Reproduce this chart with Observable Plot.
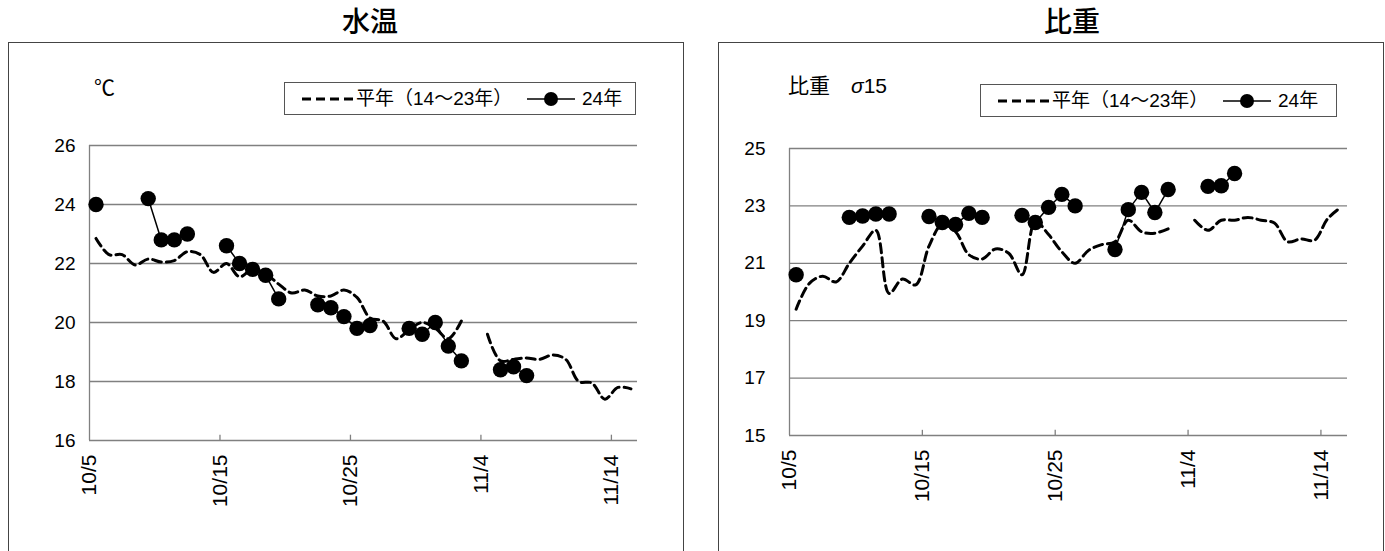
<!DOCTYPE html>
<html><head><meta charset="utf-8">
<script src="https://cdn.jsdelivr.net/npm/d3@7"></script>
<script src="https://cdn.jsdelivr.net/npm/@observablehq/plot@0.6"></script>
<style>
body{margin:0;background:#fff;width:1385px;height:551px;overflow:hidden;position:relative;font-family:"Liberation Sans","Noto Sans CJK JP",sans-serif;color:#000}
.abs{position:absolute}
.title{font-family:"Noto Sans CJK JP";font-size:28px;line-height:1;text-align:center;width:200px;font-weight:500}
.panel{border:1.5px solid #444;box-sizing:border-box}
.legend{border:1px solid #555;box-sizing:border-box;background:#fff;font-family:"Liberation Sans","Noto Sans CJK JP";font-size:19px;line-height:1}
.legend span,.legend svg{position:absolute}
.unit{font-family:"Noto Sans CJK JP";font-size:21px;line-height:1}
</style></head><body>
<script>
// ---- data ----
const dayCount = 42;                       // 10/5 .. 11/15
const xTickDays = [0, 10, 20, 30, 40];
const xTickLabels = ["10/5", "10/15", "10/25", "11/4", "11/14"];

const tempTicks = [16, 18, 20, 22, 24, 26];
const densTicks = [15, 17, 19, 21, 23, 25];

// 水温 平年(14~23年), daily
const tempNormal = [22.85, 22.3, 22.3, 21.95, 22.15, 22.05, 22.1, 22.4, 22.3, 21.7,
  22.0, 21.55, 21.8, 21.65, 21.3, 21.0, 21.1, 20.9, 20.9, 21.1,
  20.85, 20.15, 20.05, 19.45, 19.75, 20.0, 19.8, 19.45, 20.05, null,
  19.6, 18.7, 18.75, 18.8, 18.75, 18.9, 18.75, 18.0, 17.95, 17.4,
  17.8, 17.75];
// 水温 24年
const temp2024 = [24.0, null, null, null, 24.2, 22.8, 22.8, 23.0, null, null,
  22.6, 22.0, 21.8, 21.6, 20.8, null, null, 20.6, 20.5, 20.2,
  19.8, 19.9, null, null, 19.8, 19.6, 20.0, 19.2, 18.7, null,
  null, 18.4, 18.5, 18.2, null, null, null, null, null, null,
  null, null];

// 比重 平年(14~23年)
const densNormal = [19.4, 20.3, 20.55, 20.35, 21.0, 21.6, 22.15, 19.95, 20.45, 20.25,
  21.6, 22.35, 22.1, 21.3, 21.15, 21.5, 21.35, 20.6, 22.45, 22.0,
  21.4, 21.0, 21.45, 21.65, 21.75, 22.5, 22.1, 22.05, 22.2, null,
  22.5, 22.15, 22.5, 22.5, 22.6, 22.5, 22.4, 21.75, 21.85, 21.8,
  22.55, 22.95];
// 比重 24年
const dens2024 = [20.6, null, null, null, 22.6, 22.65, 22.72, 22.72, null, null,
  22.63, 22.42, 22.35, 22.74, 22.6, null, null, 22.67, 22.42, 22.95,
  23.4, 23.0, null, null, 21.48, 22.87, 23.47, 22.77, 23.57, null,
  null, 23.68, 23.7, 24.13, null, null, null, null, null, null,
  null, null];

// ---- layout helpers ----
function el(tag, cls, style, html) {
  const e = document.createElement(tag);
  if (cls) e.className = cls;
  Object.assign(e.style, style);
  if (html != null) e.innerHTML = html;
  document.body.appendChild(e);
  return e;
}

function chart(o) {
  const rowsN = d3.range(dayCount).map(i => ({x: i + 0.5, v: o.normal[i]}));
  const rowsC = d3.range(dayCount).map(i => ({x: i + 0.5, v: o.current[i]}));
  const y0 = o.yTicks[0];
  return Plot.plot({
    width: o.width, height: o.height,
    marginLeft: o.ml, marginRight: o.mr, marginTop: o.mt, marginBottom: o.mb,
    style: {fontFamily: "Liberation Sans, Noto Sans CJK JP, sans-serif", color: "#000", background: "transparent", overflow: "visible"},
    x: {domain: [0, dayCount], axis: null, label: null},
    y: {domain: [o.yTicks[0], o.yTicks[o.yTicks.length - 1]], axis: null, label: null},
    marks: [
      Plot.gridY(o.yTicks, {stroke: "#808080", strokeOpacity: 1, strokeWidth: 1.3}),
      Plot.ruleX([0], {stroke: "#808080", strokeWidth: 1.3}),
      Plot.ruleX(xTickDays.slice(1), {x: d => d, y1: y0, y2: y0 + 0.18, stroke: "#808080", strokeWidth: 1.3}),
      Plot.axisY(o.yTicks, {tickSize: 0, tickPadding: o.yPad, fontSize: 19, label: null}),
      Plot.axisX(xTickDays, {tickSize: 0, tickRotate: -90, tickPadding: 14, fontSize: 21, label: null,
        tickFormat: d => xTickLabels[xTickDays.indexOf(d)]}),
      Plot.line(rowsN, {x: "x", y: "v", stroke: "#000", strokeWidth: 3, strokeDasharray: "9,5", curve: "catmull-rom"}),
      Plot.line(rowsC, {x: "x", y: "v", stroke: "#000", strokeWidth: 1.5}),
      Plot.dot(rowsC.filter(d => d.v != null), {x: "x", y: "v", r: 7.7, fill: "#000", stroke: "none"})
    ]
  });
}

function legend(left, top, w) {
  const box = el("div", "abs legend", {left: left + "px", top: top + "px", width: w + "px", height: "33px"});
  const s1 = document.createElementNS("http://www.w3.org/2000/svg", "svg");
  s1.setAttribute("width", 56); s1.setAttribute("height", 20);
  Object.assign(s1.style, {left: "15px", top: "6px"});
  s1.innerHTML = '<line x1="2" x2="54" y1="10" y2="10" stroke="#000" stroke-width="3" stroke-dasharray="9,5"/>';
  box.appendChild(s1);
  const t1 = document.createElement("span");
  t1.textContent = "平年（14～23年）";
  Object.assign(t1.style, {left: "71px", top: "6px"});
  box.appendChild(t1);
  const s2 = document.createElementNS("http://www.w3.org/2000/svg", "svg");
  s2.setAttribute("width", 50); s2.setAttribute("height", 20);
  Object.assign(s2.style, {left: "242px", top: "6px"});
  s2.innerHTML = '<line x1="0" x2="48" y1="10" y2="10" stroke="#000" stroke-width="1.5"/><circle cx="24" cy="10" r="7" fill="#000"/>';
  box.appendChild(s2);
  const t2 = document.createElement("span");
  t2.textContent = "24年";
  Object.assign(t2.style, {left: "297px", top: "6px"});
  box.appendChild(t2);
}

// titles
el("div", "abs title", {left: "270px", top: "6px"}, "水温");
el("div", "abs title", {left: "972px", top: "6px"}, "比重");

// panels
el("div", "abs panel", {left: "8px", top: "42px", width: "676px", height: "540px"});
el("div", "abs panel", {left: "718px", top: "42px", width: "666px", height: "540px"});

// left chart
const c1 = chart({normal: tempNormal, current: temp2024, yTicks: tempTicks,
  width: 675, height: 509, ml: 81, mr: 46, mt: 103, mb: 111, yPad: 14});
el("div", "abs", {left: "8px", top: "42px"}).appendChild(c1);

// right chart
const c2 = chart({normal: densNormal, current: dens2024, yTicks: densTicks,
  width: 665, height: 509, ml: 71, mr: 36, mt: 106, mb: 116, yPad: 24});
el("div", "abs", {left: "718px", top: "42px"}).appendChild(c2);

// units
el("div", "abs unit", {left: "94px", top: "76px"}, "℃");
el("div", "abs unit", {left: "788px", top: "74px"}, "比重　<span style='font-family:Liberation Sans;font-size:21px;font-style:italic'>σ</span><span style='font-family:Liberation Sans;font-size:21px'>15</span>");

// legends
legend(284, 82, 352);
legend(980, 84, 357);
</script>
</body></html>
